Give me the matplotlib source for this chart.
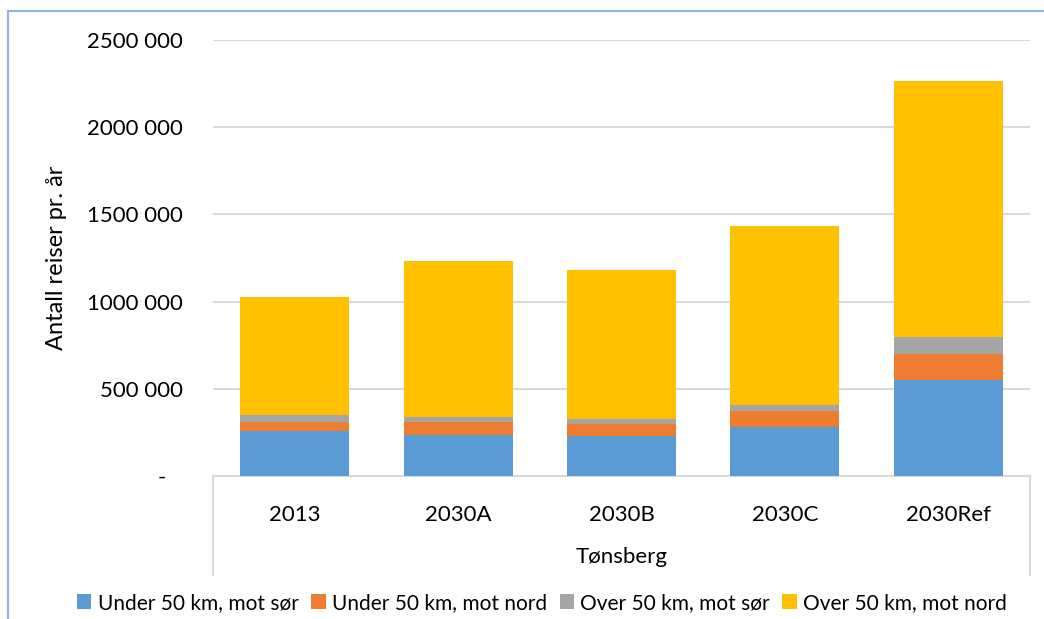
import numpy as np
import matplotlib
matplotlib.use('Agg')
import matplotlib.pyplot as plt
from matplotlib.patches import Rectangle
from matplotlib.lines import Line2D

plt.rcParams['font.family'] = ['Lato', 'DejaVu Sans']

# data
kategorier = ['2013', '2030A', '2030B', '2030C', '2030Ref']
under50_sor = [258000, 234000, 228000, 282000, 550000]
under50_nord = [54000, 74000, 72000, 88000, 150000]
over50_sor = [40000, 29000, 29000, 38000, 99000]
over50_nord = [677000, 893000, 855000, 1023000, 1465000]
serie_navn = ['Under 50 km, mot sør', 'Under 50 km, mot nord',
              'Over 50 km, mot sør', 'Over 50 km, mot nord']
farger = ['#5B9BD5', '#ED7D31', '#A5A5A5', '#FFC000']
y_ticks = [0, 500000, 1000000, 1500000, 2000000, 2500000]
y_ticklabels = ['-   ', '500 000', '1000 000', '1500 000', '2000 000', '2500 000']

W, H = 1044, 619
fig = plt.figure(figsize=(W / 100, H / 100), dpi=100)

# ramme rundt figuren (blaa kant)
fig.patches.append(Rectangle((8 / W, -0.1), 1.2, 1 - 11 / H + 0.1,
                             transform=fig.transFigure, fill=False,
                             edgecolor='#8DB4E2', linewidth=1.5))

left, right = 213 / W, 1030 / W
bottom, top = 1 - 476 / H, 1 - 40 / H
ax = fig.add_axes([left, bottom, right - left, top - bottom])

x = np.arange(len(kategorier))
serier = [under50_sor, under50_nord, over50_sor, over50_nord]
bunn = np.zeros(len(kategorier))
for verdi, farge, navn in zip(serier, farger, serie_navn):
    ax.bar(x, verdi, width=0.667, bottom=bunn, color=farge, label=navn, zorder=3)
    bunn = bunn + np.array(verdi)

ax.set_xlim(-0.5, len(kategorier) - 0.5)
ax.set_ylim(0, 2500000)
ax.set_yticks(y_ticks)
ax.set_yticklabels(y_ticklabels)
ax.tick_params(axis='y', length=0, pad=21.5, labelsize=16)
ax.set_xticks(x)
ax.set_xticklabels(kategorier)
ax.tick_params(axis='x', length=0, pad=21, labelsize=16)
ax.grid(axis='y', color='#D9D9D9', linewidth=1.5, zorder=0)
for s in ['top', 'right', 'left']:
    ax.spines[s].set_visible(False)
ax.spines['bottom'].set_color('#D9D9D9')
ax.spines['bottom'].set_linewidth(1.5)

ax.set_ylabel('Antall reiser pr. år', fontsize=17)
ax.yaxis.set_label_coords((67 - 213) / 817, 0.5)

# boks rundt kategoriaksen
for xx in [left, right]:
    fig.add_artist(Line2D([xx, xx], [1 - 575 / H, bottom], transform=fig.transFigure,
                          color='#D9D9D9', linewidth=1.5))

fig.text((left + right) / 2, 1 - 557 / H, 'Tønsberg', ha='center', va='center', fontsize=16)

handles, labels = ax.get_legend_handles_labels()
fig.legend(handles, labels, loc='center', bbox_to_anchor=(542 / W, 1 - 603 / H), ncol=4,
           frameon=False, fontsize=15, handlelength=0.7, handleheight=0.7,
           handletextpad=0.3, columnspacing=0.6, borderaxespad=0)

fig.savefig('out.png', dpi=100)
